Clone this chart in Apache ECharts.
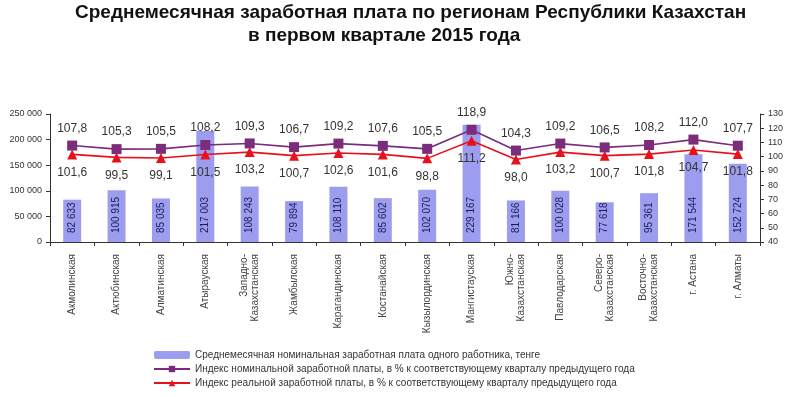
<!DOCTYPE html>
<html>
<head>
<meta charset="utf-8">
<script src="https://cdn.jsdelivr.net/npm/echarts@6/dist/echarts.min.js"></script>
<style>
  html, body { margin: 0; padding: 0; background: #fff; }
  #chart { width: 800px; height: 397px; }
</style>
</head>
<body>
<div id="chart"></div>
<script>
const regions = [
  'Акмолинская', 'Актюбинская', 'Алматинская', 'Атырауская',
  'Западно-\nКазахстанская', 'Жамбылская', 'Карагандинская', 'Костанайская',
  'Кызылординская', 'Мангистауская', 'Южно-\nКазахстанская', 'Павлодарская',
  'Северо-\nКазахстанская', 'Восточно-\nКазахстанская', 'г. Астана', 'г. Алматы'
];
const salary = [82633, 100915, 85035, 217003, 108243, 79894, 108110, 85602,
  102070, 229167, 81166, 100028, 77618, 95361, 171544, 152724];
const nominalIndex = [107.8, 105.3, 105.5, 108.2, 109.3, 106.7, 109.2, 107.6,
  105.5, 118.9, 104.3, 109.2, 106.5, 108.2, 112.0, 107.7];
const realIndex = [101.6, 99.5, 99.1, 101.5, 103.2, 100.7, 102.6, 101.6,
  98.8, 111.2, 98.0, 103.2, 100.7, 101.8, 104.7, 101.8];

const seriesNames = [
  'Среднемесячная номинальная заработная плата одного работника, тенге',
  'Индекс номинальной заработной платы, в % к соответствующему кварталу предыдущего года',
  'Индекс реальной заработной платы, в % к соответствующему кварталу предыдущего года'
];

const fmtThousands = v => String(v).replace(/\B(?=(\d{3})+(?!\d))/g, ' ');
const fmtComma = v => v.toFixed(1).replace('.', ',');

const chart = echarts.init(document.getElementById('chart'));
const axisLine = { show: true, lineStyle: { color: '#333', width: 1 } };

chart.setOption({
  animation: false,
  textStyle: { fontFamily: 'Liberation Sans, Arial, sans-serif' },
  title: [
    {
      text: 'Среднемесячная заработная плата по регионам Республики Казахстан',
      left: 70, top: -2,
      textStyle: { fontSize: 19, fontWeight: 'bold', color: '#111' }
    },
    {
      text: 'в первом квартале 2015 года',
      left: 243, top: 21,
      textStyle: { fontSize: 19, fontWeight: 'bold', color: '#111' }
    }
  ],
  grid: { left: 50, right: 40, top: 114, bottom: 155 },
  legend: {
    orient: 'vertical',
    left: 148, top: 345,
    itemGap: 4,
    itemWidth: 36, itemHeight: 8,
    textStyle: { fontSize: 10, color: '#333' },
    data: seriesNames
  },
  xAxis: {
    type: 'category',
    data: regions,
    axisLine: axisLine,
    axisTick: { show: true, length: 4, lineStyle: { color: '#333' } },
    axisLabel: { rotate: 90, fontSize: 10, color: '#444', margin: 12, lineHeight: 11 }
  },
  yAxis: [
    {
      type: 'value', min: 0, max: 250000, interval: 50000,
      axisLine: axisLine,
      axisTick: { show: true, length: 4, lineStyle: { color: '#333' } },
      splitLine: { show: false },
      axisLabel: { fontSize: 9, color: '#333', margin: 8, formatter: fmtThousands }
    },
    {
      type: 'value', min: 40, max: 130, interval: 10,
      position: 'right',
      axisLine: axisLine,
      axisTick: { show: true, length: 4, lineStyle: { color: '#333' } },
      splitLine: { show: false },
      axisLabel: { fontSize: 9, color: '#333', margin: 8 }
    }
  ],
  series: [
    {
      name: seriesNames[0],
      type: 'bar',
      data: salary,
      barWidth: 18,
      itemStyle: { color: '#9d9df0' },
      label: {
        show: true,
        position: 'insideBottom',
        rotate: 90,
        align: 'left',
        verticalAlign: 'middle',
        distance: 9,
        fontSize: 10,
        color: '#1b1b55',
        formatter: p => fmtThousands(p.value)
      },
      z: 1
    },
    {
      name: seriesNames[1],
      type: 'line',
      yAxisIndex: 1,
      data: nominalIndex,
      symbol: 'rect',
      symbolSize: 10,
      itemStyle: { color: '#7b2c7b' },
      lineStyle: { color: '#7b2c7b', width: 1.6 },
      label: {
        show: true, position: 'top', distance: 6,
        fontSize: 12, color: '#333', formatter: p => fmtComma(p.value)
      },
      z: 3
    },
    {
      name: seriesNames[2],
      type: 'line',
      yAxisIndex: 1,
      data: realIndex,
      symbol: 'triangle',
      symbolSize: 10,
      itemStyle: { color: '#e8101a' },
      lineStyle: { color: '#e8101a', width: 1.6 },
      label: {
        show: true, position: 'bottom', distance: 7,
        fontSize: 12, color: '#333', formatter: p => fmtComma(p.value)
      },
      z: 2
    }
  ]
});
</script>
</body>
</html>
